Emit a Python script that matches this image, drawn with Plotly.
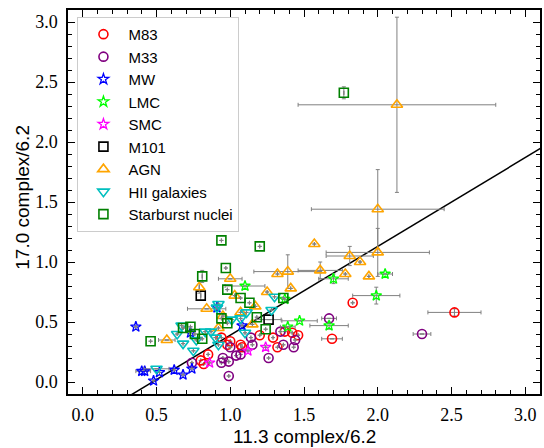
import plotly.graph_objects as go

N = None

# ---------------- data ----------------
m83_x = [0.94, 1.00, 0.98, 1.07, 1.08, 1.20, 1.29, 1.32, 1.37, 1.42, 1.46, 0.85, 0.80, 0.82, 1.83, 2.52, 1.69]
m83_y = [0.37, 0.34, 0.31, 0.31, 0.29, 0.39, 0.37, 0.29, 0.42, 0.41, 0.39, 0.23, 0.18, 0.15, 0.66, 0.58, 0.36]
m83_xe = [N] * 14 + [N, 0.18, 0.07]
m83_ye = [N] * 14 + [N, 0.03, N]

m33_x = [0.74, 0.94, 0.95, 0.99, 1.00, 1.04, 1.07, 1.14, 1.15, 0.99, 1.26, 1.34, 1.36, 1.43, 1.44, 1.67, 2.30]
m33_y = [0.16, 0.16, 0.20, 0.17, 0.29, 0.22, 0.23, 0.37, 0.31, 0.05, 0.20, 0.42, 0.31, 0.29, 0.35, 0.53, 0.40]
m33_xe = [N] * 15 + [0.05, 0.06]
m33_ye = [N] * 17

mw_x = [0.36, 0.40, 0.42, 0.48, 0.52, 0.62, 0.68, 0.74, 1.08, 0.73, 0.91]
mw_y = [0.46, 0.09, 0.09, 0.01, 0.08, 0.10, 0.06, 0.11, 0.47, 0.41, 0.62]
mw_xe = [N, 0.04, 0.04, N, N, N, N, N, N, N, N]
mw_ye = [N] * 11

lmc_x = [1.10, 1.39, 1.47, 1.70, 2.05, 1.99, 1.67, 1.37]
lmc_y = [0.80, 0.46, 0.51, 0.86, 0.90, 0.72, 0.47, 0.69]
lmc_xe = [0.135, 0.05, 0.12, 0.10, 0.05, 0.16, 0.13, N]
lmc_ye = [N, N, N, 0.04, N, 0.07, 0.03, N]

smc_x = [0.86, 1.12, 1.24]
smc_y = [0.16, 0.26, 0.29]
smc_xe = [N, N, N]
smc_ye = [N, N, N]

m101_x = [0.80, 1.26]
m101_y = [0.72, 0.52]
m101_xe = [N, 0.085]
m101_ye = [0.04, N]

agn_x = [1.00, 0.79, 1.03, 0.84, 1.17, 1.25, 1.32, 1.39, 1.41, 1.07, 1.15, 0.92, 0.57,
         1.57, 1.81, 1.88, 2.00, 1.61, 1.78, 1.94, 2.13, 2.00, 0.95]
agn_y = [0.86, 0.79, 0.72, 0.61, 0.63, 0.75, 0.90, 0.92, 0.78, 0.58, 0.48, 0.45, 0.35,
         1.15, 1.05, 1.00, 1.08, 0.93, 0.90, 0.88, 2.31, 1.44, 0.55]
agn_xe = [0.08, N, N, 0.13, N, N, N, 0.23, N, N, N, N, 0.056,
          N, 0.16, N, 0.35, 0.15, N, N, 0.67, 0.45, N]
agn_ye = [N, 0.05, N, N, N, N, N, 0.14, N, N, N, N, N,
          N, 0.08, N, 0.20, 0.07, N, N, 0.73, 0.33, N]

hii_x = [0.92, 0.91, 1.30, 1.28, 1.11, 1.07, 1.01, 0.67, 0.64, 0.68, 0.75, 0.83, 0.87, 0.90, 0.92, 1.10, 0.77, 0.50]
hii_y = [0.65, 0.62, 0.71, 0.60, 0.58, 0.53, 0.52, 0.47, 0.40, 0.32, 0.26, 0.42, 0.42, 0.37, 0.31, 0.41, 0.35, 0.11]
hii_xe = [N] * 17 + [0.085]
hii_ye = [N] * 18

sb_x = [0.94, 1.20, 0.97, 0.81, 0.98, 1.07, 1.13, 1.36, 1.18, 0.94, 0.98, 0.68, 0.73, 0.76, 0.81, 1.24, 0.46, 1.77]
sb_y = [1.18, 1.13, 0.95, 0.88, 0.77, 0.70, 0.66, 0.70, 0.54, 0.53, 0.49, 0.45, 0.46, 0.40, 0.36, 0.44, 0.34, 2.41]
sb_xe = [N] * 18
sb_ye = [N, N, N, 0.05] + [N] * 13 + [0.05]

fit_slope = 0.74
fit_intercept = -0.35
fit_x = [0.0, 3.2]

x_ticks = [0.0, 0.5, 1.0, 1.5, 2.0, 2.5, 3.0]
y_ticks = [0.0, 0.5, 1.0, 1.5, 2.0, 2.5, 3.0]
x_title = "11.3 complex/6.2"
y_title = "17.0 complex/6.2"

series = [
    ("M83", m83_x, m83_y, m83_xe, m83_ye, "circle-open", "red", 9, 1.6),
    ("M33", m33_x, m33_y, m33_xe, m33_ye, "circle-open", "purple", 9, 1.6),
    ("MW", mw_x, mw_y, mw_xe, mw_ye, "star-open", "blue", 8, 1.3),
    ("LMC", lmc_x, lmc_y, lmc_xe, lmc_ye, "star-open", "lime", 8, 1.3),
    ("SMC", smc_x, smc_y, smc_xe, smc_ye, "star-open", "magenta", 8, 1.3),
    ("M101", m101_x, m101_y, m101_xe, m101_ye, "square-open", "black", 9, 1.6),
    ("AGN", agn_x, agn_y, agn_xe, agn_ye, "triangle-up-open", "orange", 10, 1.6),
    ("HII galaxies", hii_x, hii_y, hii_xe, hii_ye, "triangle-down-open", "#00BFBF", 10, 1.6),
    ("Starburst nuclei", sb_x, sb_y, sb_xe, sb_ye, "square-open", "green", 9, 1.6),
]

fig = go.Figure()

fig.add_trace(go.Scatter(
    x=fit_x, y=[fit_slope * v + fit_intercept for v in fit_x],
    mode="lines", line=dict(color="black", width=1.5), showlegend=False, hoverinfo="skip"))

for name, xs, ys, xe, ye, sym, col, sz, lw in series:
    fig.add_trace(go.Scatter(
        x=xs, y=ys, mode="markers", name=name,
        marker=dict(symbol=sym, size=sz, color=col, line=dict(width=lw, color=col)),
        error_x=dict(type="data", array=xe, color="gray", thickness=1, width=2),
        error_y=dict(type="data", array=ye, color="gray", thickness=1, width=2),
    ))

axis_common = dict(
    showline=True, linecolor="black", linewidth=1.5, mirror="allticks",
    ticks="inside", ticklen=7, tickwidth=1.2, tickcolor="black",
    showgrid=False, zeroline=False,
    tickfont=dict(family="Liberation Serif", size=18, color="black"),
    minor=dict(ticks="inside", ticklen=4, tickwidth=1, tickcolor="black", dtick=0.1, tick0=0, showgrid=False),
)

fig.update_xaxes(range=[-0.1, 3.1], tickvals=x_ticks, ticktext=[f"{v:.1f}" for v in x_ticks],
                 ticklabelstandoff=4, **axis_common)
fig.update_yaxes(range=[-0.1, 3.1], tickvals=y_ticks, ticktext=[f"{v:.1f}" for v in y_ticks],
                 ticklabelstandoff=5, **axis_common)

title_font = dict(family="Liberation Sans", size=19, color="black")
fig.add_annotation(text=x_title, xref="paper", yref="paper", x=0.5, y=-0.11,
                   xanchor="center", yanchor="middle", showarrow=False, font=title_font)
fig.add_annotation(text=y_title, xref="paper", yref="paper", x=-0.098, y=0.513,
                   xanchor="center", yanchor="middle", showarrow=False, textangle=-90, font=title_font)

fig.update_layout(
    width=544, height=448,
    margin=dict(l=68, r=2, t=10, b=54),
    plot_bgcolor="white", paper_bgcolor="white",
    legend=dict(x=0.02, y=0.982, xanchor="left", yanchor="top",
                bgcolor="rgba(255,255,255,0.8)", bordercolor="#cccccc", borderwidth=1,
                font=dict(family="Liberation Sans", size=15, color="black"),
                itemwidth=40),
)

fig.write_html("out.html")
